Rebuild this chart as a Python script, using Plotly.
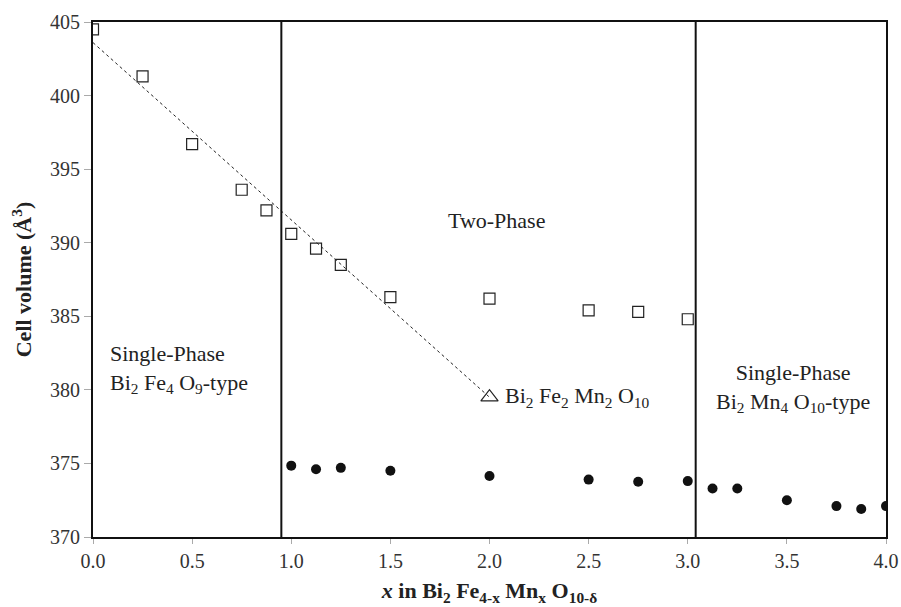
import plotly.graph_objects as go

# Open squares: cell volume of Bi2Fe4O9-type phase
x_sq = [0.0, 0.25, 0.5, 0.75, 0.875, 1.0, 1.125, 1.25, 1.5, 2.0, 2.5, 2.75, 3.0]
v_sq = [404.5, 401.3, 396.7, 393.6, 392.2, 390.6, 389.6, 388.5, 386.3, 386.2, 385.4, 385.3, 384.8]

# Filled circles: Bi2Mn4O10-type phase
x_ci = [1.0, 1.125, 1.25, 1.5, 2.0, 2.5, 2.75, 3.0, 3.125, 3.25, 3.5, 3.75, 3.875, 4.0]
v_ci = [374.85, 374.6, 374.7, 374.5, 374.15, 373.9, 373.75, 373.8, 373.3, 373.3, 372.5, 372.1, 371.9, 372.1]

# Triangle: Bi2Fe2Mn2O10
x_tri = [2.0]
v_tri = [379.5]

# Dashed guide line (Vegard)
x_fit = [0.0, 2.0]
v_fit = [403.6, 379.5]

# Phase boundaries
x_bounds = [0.95, 3.04]

FONT = "Liberation Serif, Times New Roman, serif"
FS = 22
TFS = 20

fig = go.Figure()
fig.add_trace(go.Scatter(x=x_fit, y=v_fit, mode="lines",
                         line=dict(color="#222", width=1, dash="3px,3px"),
                         showlegend=False, hoverinfo="skip"))
fig.add_trace(go.Scatter(x=x_sq, y=v_sq, mode="markers",
                         marker=dict(symbol="square-open", size=11, color="#222",
                                     line=dict(width=1.2, color="#222")),
                         showlegend=False))
fig.add_trace(go.Scatter(x=x_ci, y=v_ci, mode="markers",
                         marker=dict(symbol="circle", size=10, color="#111"),
                         showlegend=False))
fig.add_trace(go.Scatter(x=x_tri, y=v_tri, mode="markers",
                         marker=dict(symbol="triangle-up-open", size=15, color="#222",
                                     line=dict(width=1.2, color="#222")),
                         showlegend=False))

for xb in x_bounds:
    fig.add_shape(type="line", xref="x", yref="y", x0=xb, x1=xb, y0=370, y1=405,
                  line=dict(color="#111", width=2))

ann_font = dict(family=FONT, size=FS, color="#222")
fig.add_annotation(x=2.035, y=391.5, text="Two-Phase", showarrow=False,
                   xanchor="center", yanchor="middle", font=ann_font)
fig.add_annotation(x=0.078, y=381.4,
                   text="Single-Phase<br>Bi<sub>2</sub> Fe<sub>4</sub> O<sub>9</sub>-type",
                   showarrow=False, xanchor="left", yanchor="middle", align="left",
                   font=ann_font)
fig.add_annotation(x=3.53, y=380.1,
                   text="Single-Phase<br>Bi<sub>2</sub> Mn<sub>4</sub> O<sub>10</sub>-type",
                   showarrow=False, xanchor="center", yanchor="middle", align="center",
                   font=ann_font)
fig.add_annotation(x=2.066, y=379.5,
                   text="Bi<sub>2</sub> Fe<sub>2</sub> Mn<sub>2</sub> O<sub>10</sub>",
                   showarrow=False, xanchor="left", yanchor="middle", align="left",
                   font=ann_font)

fig.update_layout(
    width=901, height=607,
    margin=dict(l=93, r=15, t=22, b=70),
    paper_bgcolor="white", plot_bgcolor="white",
    font=dict(family=FONT, size=FS, color="#333"),
    xaxis=dict(range=[0, 4], dtick=0.5, tick0=0, tickformat=".1f",
               showgrid=False, zeroline=False, automargin=False,
               showline=True, linecolor="#111", linewidth=2, mirror=True,
               ticks="outside", ticklen=5, tickcolor="#aaa", tickwidth=1,
               tickfont=dict(family=FONT, size=TFS, color="#333"),
               title=dict(text="<b><i>x</i> in Bi<sub>2</sub> Fe<sub>4-x</sub> Mn<sub>x</sub> O<sub>10-δ</sub></b>",
                          font=dict(family=FONT, size=FS, color="#222"), standoff=12)),
    yaxis=dict(range=[370, 405], dtick=5, tick0=370,
               showgrid=False, zeroline=False, automargin=False,
               showline=True, linecolor="#111", linewidth=2, mirror=True,
               ticks="outside", ticklen=7, tickcolor="#aaa", tickwidth=1,
               tickfont=dict(family=FONT, size=TFS, color="#333"),
               title=dict(text="<b>Cell volume (Å<sup>3</sup>)</b>",
                          font=dict(family=FONT, size=FS, color="#222"), standoff=12)),
)

fig.write_html("out.html",
               config={"displayModeBar": False},
               post_script="document.body.style.margin='0';document.body.style.overflow='hidden';")
